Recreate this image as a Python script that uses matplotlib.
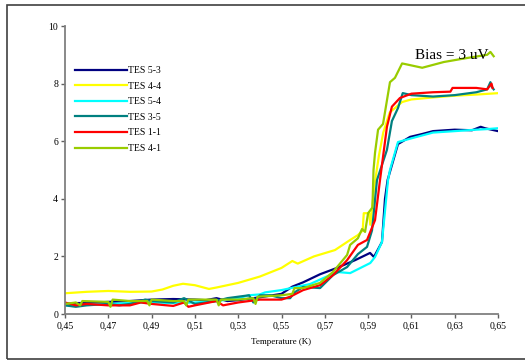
import matplotlib as mpl
mpl.use('Agg')
import matplotlib.pyplot as plt
from matplotlib.patches import Rectangle
from matplotlib.ticker import FuncFormatter


# TES 5-3
x53 = [0.450, 0.455, 0.46, 0.47, 0.48, 0.49, 0.50, 0.51, 0.515, 0.52, 0.525, 0.53, 0.54, 0.55,
       0.555, 0.56, 0.5678, 0.5756, 0.584, 0.5909, 0.5927, 0.5964, 0.5978, 0.599, 0.6038, 0.6094,
       0.615, 0.62, 0.63, 0.638, 0.642, 0.644, 0.65]
y53 = [0.35, 0.38, 0.38, 0.42, 0.45, 0.50, 0.52, 0.50, 0.48, 0.55, 0.45, 0.48, 0.58, 0.70,
       0.95, 1.10, 1.38, 1.60, 1.87, 2.12, 1.98, 2.5, 4.0, 4.65, 5.9, 6.15,
       6.25, 6.35, 6.4, 6.38, 6.5, 6.45, 6.35]

# TES 4-4
x44 = [0.45, 0.46, 0.47, 0.48, 0.49, 0.495, 0.50, 0.5045, 0.51, 0.5165, 0.52, 0.53, 0.54, 0.55,
       0.555, 0.5575, 0.565, 0.5747, 0.5817, 0.5853, 0.5875, 0.588, 0.5905, 0.591, 0.593, 0.595,
       0.597, 0.600, 0.6057, 0.61, 0.62, 0.63, 0.64, 0.6505]
y44 = [0.72, 0.77, 0.8, 0.77, 0.78, 0.85, 0.98, 1.05, 1.0, 0.87, 0.92, 1.08, 1.3, 1.6,
       1.84, 1.75, 2.0, 2.22, 2.57, 2.74, 2.9, 3.5, 3.5, 3.1, 4.5, 5.5,
       6.3, 7.0, 7.36, 7.45, 7.52, 7.58, 7.62, 7.67]

# TES 5-4
x54 = [0.45, 0.46, 0.47, 0.48, 0.49, 0.50, 0.51, 0.52, 0.53, 0.535, 0.54, 0.5424, 0.55, 0.5632,
       0.5756, 0.5817, 0.591, 0.5932, 0.5964, 0.5992, 0.6001, 0.6038, 0.61, 0.62, 0.63, 0.64,
       0.645, 0.65]
y54 = [0.3, 0.32, 0.35, 0.38, 0.4, 0.38, 0.40, 0.45, 0.55, 0.65, 0.68, 0.75, 0.83, 1.04,
       1.46, 1.42, 1.77, 1.98, 2.5, 4.65, 5.0, 5.97, 6.1, 6.3, 6.35, 6.4,
       6.42, 6.45]

# TES 3-5
x35 = [0.45, 0.455, 0.46, 0.47, 0.475, 0.48, 0.487, 0.49, 0.50, 0.505, 0.51, 0.52, 0.525, 0.53,
       0.535, 0.537, 0.54, 0.545, 0.55, 0.554, 0.556, 0.56, 0.5678, 0.5738, 0.5803, 0.5853,
       0.5895, 0.5918, 0.5941, 0.5987, 0.601, 0.6038, 0.606, 0.61, 0.62, 0.63, 0.64, 0.645,
       0.6465, 0.647, 0.648]
y35 = [0.3, 0.25, 0.3, 0.35, 0.3, 0.35, 0.5, 0.45, 0.4, 0.55, 0.35, 0.45, 0.55, 0.6,
       0.65, 0.4, 0.65, 0.65, 0.55, 0.55, 0.75, 0.94, 0.9, 1.35, 1.63, 2.08,
       2.33, 2.9, 4.65, 5.7, 6.7, 7.15, 7.67, 7.6, 7.55, 7.6, 7.7, 7.8,
       8.05, 7.9, 7.8]

# TES 1-1
x11 = [0.45, 0.455, 0.46, 0.47, 0.48, 0.485, 0.49, 0.50, 0.505, 0.507, 0.51, 0.52, 0.523, 0.53,
       0.54, 0.55, 0.554, 0.56, 0.5678, 0.5738, 0.5803, 0.5853, 0.5895, 0.5932, 0.5955, 0.5987,
       0.601, 0.6047, 0.61, 0.62, 0.628, 0.629, 0.64, 0.645, 0.646, 0.647, 0.6475]
y11 = [0.4, 0.3, 0.35, 0.3, 0.3, 0.4, 0.35, 0.28, 0.4, 0.25, 0.3, 0.45, 0.3, 0.4,
       0.5, 0.5, 0.6, 0.83, 1.0, 1.35, 1.87, 2.4, 2.57, 3.26, 4.65, 6.5,
       7.2, 7.5, 7.65, 7.7, 7.72, 7.85, 7.85, 7.8, 7.9, 8.0, 7.85]

# TES 4-1
x41 = [0.45, 0.455, 0.457, 0.458, 0.47, 0.471, 0.472, 0.48, 0.488, 0.489, 0.49, 0.50, 0.505,
       0.506, 0.507, 0.52, 0.521, 0.522, 0.53, 0.537, 0.538, 0.539, 0.55, 0.555, 0.556, 0.56,
       0.5678, 0.5738, 0.5803, 0.5817, 0.5853, 0.5872, 0.5886, 0.59, 0.592, 0.5925, 0.5932,
       0.5946, 0.5969, 0.6001, 0.6024, 0.6057, 0.607, 0.615, 0.625, 0.635, 0.645, 0.6465, 0.648]
y41 = [0.35, 0.4, 0.3, 0.45, 0.42, 0.25, 0.5, 0.45, 0.45, 0.3, 0.5, 0.45, 0.45,
       0.3, 0.5, 0.5, 0.3, 0.5, 0.5, 0.55, 0.35, 0.6, 0.65, 0.7, 0.9, 0.9,
       1.08, 1.46, 2.05, 2.4, 2.63, 2.95, 2.85, 3.5, 3.7, 5.0, 5.6,
       6.4, 6.6, 8.05, 8.2, 8.7, 8.68, 8.55, 8.75, 8.88, 9.0, 9.1, 8.95]

series = [
    ("TES 5-3", x53, y53, "#000080"),
    ("TES 4-4", x44, y44, "#FFFF00"),
    ("TES 5-4", x54, y54, "#00FFFF"),
    ("TES 3-5", x35, y35, "#008080"),
    ("TES 1-1", x11, y11, "#FF0000"),
    ("TES 4-1", x41, y41, "#99CC00"),
]

plt.rcParams['font.family'] = ['Liberation Serif', 'DejaVu Serif']

fig = plt.figure(figsize=(5.25, 3.6), dpi=100)
ax = fig.add_axes([65 / 525, 46 / 360, 433 / 525, 288 / 360])

for nome, x, y, cor in series:
    ax.plot(x, y, color=cor, lw=1.6, label=nome)

ax.set_xlim(0.45, 0.65)
ax.set_ylim(0, 10)
ax.set_xticks([0.45, 0.47, 0.49, 0.51, 0.53, 0.55, 0.57, 0.59, 0.61, 0.63, 0.65])
ax.set_yticks([0, 2, 4, 6, 8, 10])
ax.xaxis.set_major_formatter(FuncFormatter(lambda v, p: "{:.2f}".format(v).replace(".", ",")))
ax.tick_params(labelsize=7, length=3, width=1, color="#606060", direction="out", pad=2)

for lado in ["top", "right"]:
    ax.spines[lado].set_visible(False)
for lado in ["left", "bottom"]:
    ax.spines[lado].set_color("#808080")
    ax.spines[lado].set_linewidth(1.3)

ax.set_xlabel("Temperature (K)", fontsize=6.5, labelpad=6)

ax.legend(loc="upper left", bbox_to_anchor=(10 / 433, 248 / 288), frameon=False,
          fontsize=7, handlelength=5.3, handletextpad=0.2, labelspacing=0.68,
          borderpad=0, borderaxespad=0)

ax.text(0.6117, 8.96, "Bias = 3 uV", fontsize=11, va="center", ha="left")

# moldura externa (lado direito fica fora da imagem)
fig.patches.append(Rectangle((7 / 525, 1 / 360), 530 / 525, 354 / 360, transform=fig.transFigure,
                             fill=False, edgecolor="#404040", lw=1.2))

fig.savefig("out.png", dpi=100)
